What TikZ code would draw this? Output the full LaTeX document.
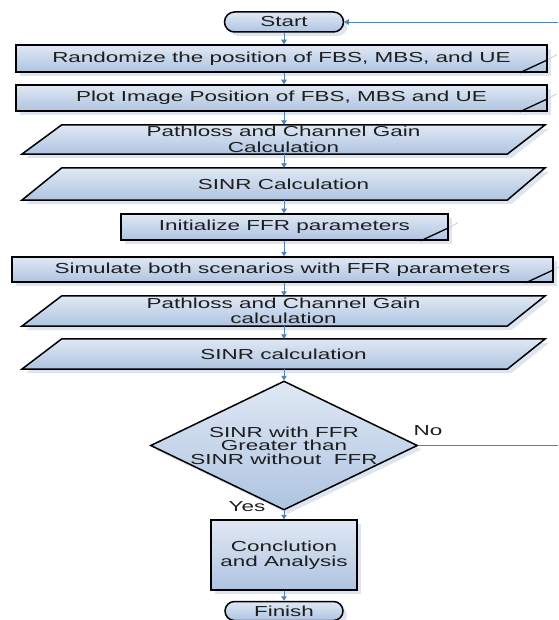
\documentclass[tikz,border=0pt]{standalone}
\usepackage{fontspec}
\setmainfont[FakeStretch=1.55]{Liberation Sans}
\usetikzlibrary{shapes.geometric,shapes.misc,arrows.meta,shadows,backgrounds}
\definecolor{fillTop}{RGB}{224,232,244}
\definecolor{fillBot}{RGB}{174,196,225}
\definecolor{shadowc}{RGB}{150,170,205}
\definecolor{conn}{RGB}{79,129,189}
\definecolor{txtc}{RGB}{30,30,30}
\newcommand\txtsize{\fontsize{14.5}{15.5}\selectfont}
\tikzset{
  shapefill/.style={top color=fillTop, bottom color=fillBot, draw=black, line width=1.5pt},
  shad/.style={drop shadow={shadow xshift=4pt, shadow yshift=-4pt, opacity=0.3, fill=shadowc}},
  procbox/.style={rectangle, shapefill, shad, inner sep=0pt, font=\txtsize, text=txtc, align=center},
  term/.style={rounded rectangle, shapefill, shad, inner sep=0pt, font=\txtsize, text=txtc},
  paratext/.style={rectangle, inner sep=0pt, font=\txtsize, text=txtc, align=center},
  parashape/.style={shapefill, shad, line join=miter},
  decision/.style={diamond, shapefill, shad, inner sep=0pt, font=\fontsize{14.5}{13.5}\selectfont, text=txtc, align=center, aspect=2.07},
  foldline/.style={draw=black, line width=1.3pt},
  foldghost/.style={draw=gray!40, line width=0.8pt},
  arr/.style={draw=conn, line width=0.9pt, -{Triangle[width=5.5pt,length=4.5pt]}},
  plainconn/.style={draw=conn, line width=0.8pt},
  lbl/.style={font=\txtsize, text=txtc, inner sep=0pt}
}
\begin{document}
\begin{tikzpicture}[x=1pt,y=-1pt]
\useasboundingbox (0,0) rectangle (558,620);
% terminators and process boxes
\node[term, minimum width=119pt, minimum height=20pt] (start) at (284,22) {Start};
\node[procbox, minimum width=531pt, minimum height=27pt] (b1) at (281.5,58.5) {Randomize the position of FBS, MBS, and UE};
\node[procbox, minimum width=531pt, minimum height=26pt] (b2) at (281.5,98) {Plot Image Position of FBS, MBS and UE};
\node[paratext, minimum width=523pt, minimum height=29pt] (p1) at (283.5,139.5) {Pathloss and Channel Gain\\Calculation};
\node[paratext, minimum width=523pt, minimum height=32pt] (p2) at (283.5,184) {SINR Calculation};
\node[procbox, minimum width=327pt, minimum height=26pt] (b3) at (284.5,227) {Initialize FFR parameters};
\node[procbox, minimum width=541pt, minimum height=25pt] (b4) at (282.5,269.5) {Simulate both scenarios with FFR parameters};
\node[paratext, minimum width=523pt, minimum height=30pt] (p3) at (283.5,311) {Pathloss and Channel Gain\\calculation};
\node[paratext, minimum width=523pt, minimum height=30pt] (p4) at (283.5,354) {SINR calculation};
\node[decision, minimum width=267pt, minimum height=129pt] (dec) at (284,445.5) {SINR with FFR\\Greater than\\SINR without\ \ FFR};
\node[procbox, minimum width=146pt, minimum height=70pt] (b5) at (284,555) {Conclution\\and Analysis};
\node[term, minimum width=118pt, minimum height=19pt] (finish) at (284,611) {Finish};
% parallelogram outlines behind their texts
\begin{scope}[on background layer]
\foreach \p in {p1,p2,p3,p4}{
  \path[parashape] (\p.south west) -- ([xshift=40pt]\p.north west) -- (\p.north east) -- ([xshift=-38pt]\p.south east) -- cycle;
}
\end{scope}
% folded corners
\foreach \b in {b1,b2,b3,b4}{
  \draw[foldghost] ([yshift=13pt]\b.south east) -- ([xshift=9pt,yshift=18pt]\b.south east);
  \draw[foldline] ([xshift=-28pt]\b.south east) -- ([yshift=13pt]\b.south east);
}
% connectors
\draw[arr] (start.south) -- (start.south |- b1.north);
\draw[arr] (b1.south -| start.south) -- (start.south |- b2.north);
\draw[arr] (b2.south -| start.south) -- (start.south |- p1.north);
\draw[arr] (p1.south -| start.south) -- (start.south |- p2.north);
\draw[arr] (p2.south -| start.south) -- (start.south |- b3.north);
\draw[arr] (b3.south -| start.south) -- (start.south |- b4.north);
\draw[arr] (b4.south -| start.south) -- (start.south |- p3.north);
\draw[arr] (p3.south -| start.south) -- (start.south |- p4.north);
\draw[arr] (p4.south -| start.south) -- (dec.north);
\draw[arr] (dec.south) -- (dec.south |- b5.north);
\draw[arr] (b5.south -| dec.south) -- (finish.north);
\coordinate (noend) at (558,445.5);
\coordinate (back) at (558,22);
\draw[plainconn] (dec.east) -- (noend);
\draw[arr] (back) -- (start.east);
\node[lbl] (no) at (428,431) {No};
\node[lbl] (yes) at (247,507) {Yes};
\end{tikzpicture}
\end{document}
